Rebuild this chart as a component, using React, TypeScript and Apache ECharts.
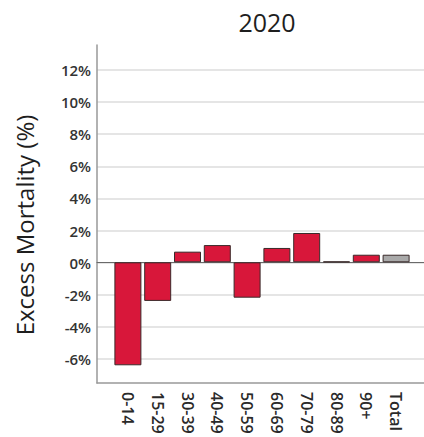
import React, { useEffect, useRef } from "react";
import * as echarts from "echarts";

const title = "2020";
const yAxisTitle = "Excess Mortality (%)";
const categories = ["0-14", "15-29", "30-39", "40-49", "50-59", "60-69", "70-79", "80-89", "90+", "Total"];
const values = [-6.4, -2.4, 0.66, 1.07, -2.2, 0.89, 1.82, 0.05, 0.47, 0.47];
const barColors = ["#D8173A", "#D8173A", "#D8173A", "#D8173A", "#D8173A", "#D8173A", "#D8173A", "#D8173A", "#D8173A", "#A9A9A9"];
const tickMin = -6;
const tickMax = 12;
const tickStep = 2;
const frameMin = -7.5;
const frameMax = 13.5;

export default function App() {
  const ref = useRef<HTMLDivElement>(null);
  useEffect(() => {
    if (!ref.current) return;
    const chart = echarts.init(ref.current, null, { renderer: "svg" });
    const font = "'Open Sans', 'Noto Sans', sans-serif";
    chart.setOption({
      animation: false,
      backgroundColor: "#ffffff",
      title: {
        text: title,
        left: 262,
        top: 4,
        textAlign: "center",
        textStyle: { fontFamily: font, fontSize: 25, fontWeight: "normal", color: "#1e1e1e" },
      },
      graphic: [
        {
          type: "text",
          x: 24,
          y: 225,
          rotation: Math.PI / 2,
          style: {
            text: yAxisTitle,
            font: `24px ${font}`,
            fill: "#1e1e1e",
            align: "center",
            verticalAlign: "middle",
          },
        },
      ],
      grid: [
        { left: 97, right: 0, top: 45, bottom: 54 },
        { left: 97, right: 0, top: 70, bottom: 78 },
        { left: 113, width: 298, top: 45, bottom: 54 },
      ],
      xAxis: [
        {
          gridIndex: 0,
          type: "value",
          min: 0,
          max: 1,
          axisLine: { show: true, onZero: false, lineStyle: { color: "#999", width: 1.5 } },
          axisTick: { show: false },
          axisLabel: { show: false },
          splitLine: { show: false },
        },
        {
          gridIndex: 1,
          type: "value",
          min: 0,
          max: 1,
          axisLine: { show: true, onZero: true, lineStyle: { color: "#6a6a6a", width: 1.2 } },
          axisTick: { show: false },
          axisLabel: { show: false },
          splitLine: { show: false },
        },
        {
          gridIndex: 2,
          type: "category",
          data: categories,
          axisLine: { show: false },
          axisTick: { show: false },
          axisLabel: {
            rotate: -90,
            margin: 9,
            fontFamily: font,
            fontSize: 16,
            fontWeight: 600,
            color: "#2a2a2a",
          },
        },
      ],
      yAxis: [
        {
          gridIndex: 0,
          type: "value",
          min: frameMin,
          max: frameMax,
          axisLine: { show: true, lineStyle: { color: "#999", width: 1.5 } },
          axisTick: { show: false },
          axisLabel: { show: false },
          splitLine: { show: false },
        },
        {
          gridIndex: 1,
          type: "value",
          min: tickMin,
          max: tickMax,
          interval: tickStep,
          axisLine: { show: false },
          axisTick: { show: false },
          axisLabel: {
            formatter: (v: number) => `${v}%`,
            margin: 6,
            fontFamily: font,
            fontSize: 15,
            fontWeight: 600,
            color: "#333",
          },
          splitLine: { show: true, lineStyle: { color: "#dcdcdc", width: 1.5 } },
        },
        {
          gridIndex: 2,
          type: "value",
          min: frameMin,
          max: frameMax,
          show: false,
        },
      ],
      series: [
        {
          type: "bar",
          xAxisIndex: 2,
          yAxisIndex: 2,
          barWidth: 27,
          data: values.map((v, i) => ({
            value: v,
            itemStyle: { color: barColors[i], borderColor: "#3a2a2a", borderWidth: 1 },
          })),
        },
      ],
    });
    return () => chart.dispose();
  }, []);
  return <div ref={ref} style={{ position: "fixed", left: 0, top: 0, width: 424, height: 437 }} />;
}
